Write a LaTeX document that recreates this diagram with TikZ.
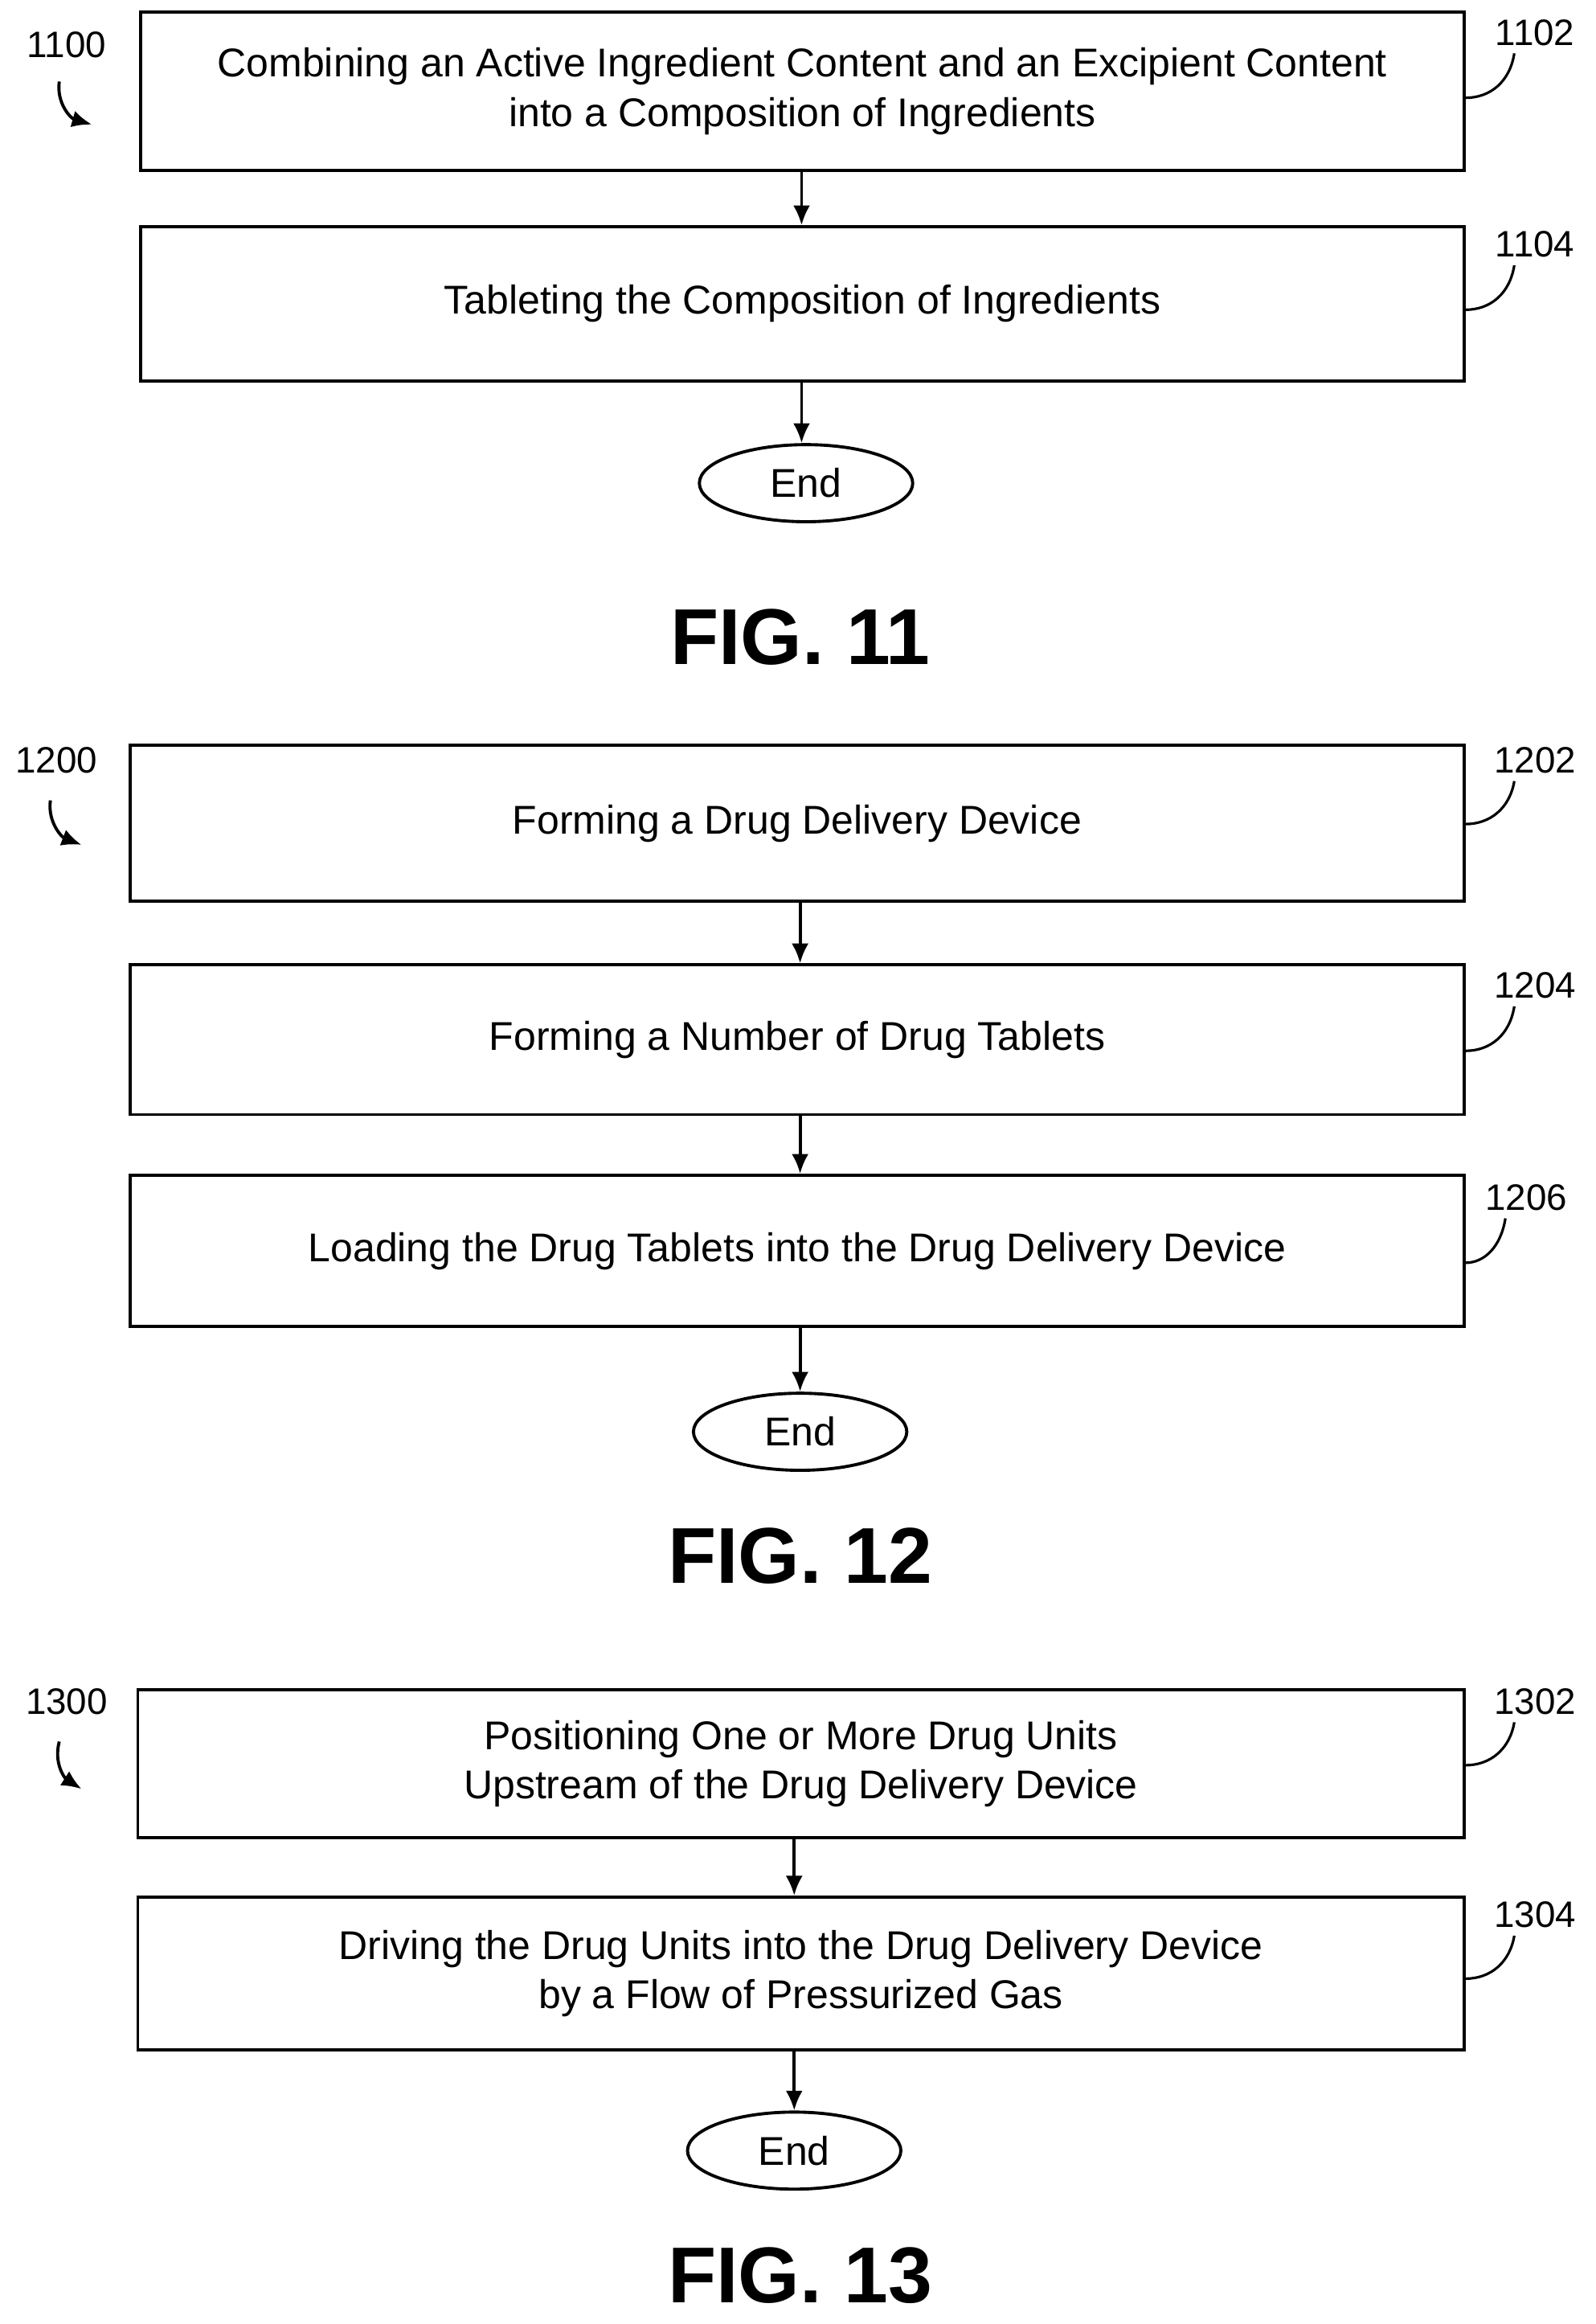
\documentclass[tikz,border=0pt]{standalone}
\usepackage{fontspec}
\setmainfont{Liberation Sans}
\usetikzlibrary{shapes.geometric,arrows.meta}
\begin{document}
\begin{tikzpicture}[x=0.01842cm,y=-0.01842cm,
  box/.style={draw,line width=1.1pt,inner sep=0pt,font=\fontsize{14.2}{17.5}\selectfont,align=center},
  endn/.style={draw,ellipse,line width=1.1pt,minimum width=144*0.01842cm,minimum height=52*0.01842cm,inner sep=0pt,font=\fontsize{14.2}{17}\selectfont},
  fig/.style={font=\fontsize{28}{30}\bfseries\selectfont},
  lbl/.style={font=\fontsize{13}{15}\selectfont},
  arr/.style={-{Latex[length=7pt,width=6pt]},line width=1.1pt},
  lead/.style={line width=0.9pt}]
\useasboundingbox (0,0) rectangle (1077,1568);
% FIG 11
\node[box,minimum width=893*0.01842cm,minimum height=107*0.01842cm] (b1102) at (541.5,61.5) {Combining an Active Ingredient Content and an Excipient Content\\into a Composition of Ingredients};
\node[box,minimum width=893*0.01842cm,minimum height=104*0.01842cm] (b1104) at (541.5,205) {Tableting the Composition of Ingredients};
\node[endn] (e11) at (544,326) {End};
\draw[arr] (b1102.south -| 541,0) -- (b1104.north -| 541,0);
\draw[arr] (b1104.south -| 541,0) -- (e11.north -| 541,0);
\node[fig] (f11) at (540,430) {FIG. 11};
\node[lbl] (l1100) at (45,30) {1100};
\coordinate (a1100s) at (40,55); \coordinate (a1100e) at (62,84);
\draw[arr] (a1100s) .. controls (38,70) and (48,80) .. (a1100e);
\node[lbl] (l1102) at (1036,22) {1102};
\coordinate (t1102) at (1022,36);
\draw[lead] (b1102.east |- 0,66) .. controls (1006,66) and (1019,55) .. (t1102);
\node[lbl] (l1104) at (1036,165) {1104};
\coordinate (t1104) at (1022,179);
\draw[lead] (b1104.east |- 0,209) .. controls (1006,209) and (1019,198) .. (t1104);
% FIG 12
\node[box,minimum width=900*0.01842cm,minimum height=105*0.01842cm] (b1202) at (538,555.5) {Forming a Drug Delivery Device};
\node[box,minimum width=900*0.01842cm,minimum height=101*0.01842cm] (b1204) at (538,701.5) {Forming a Number of Drug Tablets};
\node[box,minimum width=900*0.01842cm,minimum height=102*0.01842cm] (b1206) at (538,844) {Loading the Drug Tablets into the Drug Delivery Device};
\node[endn] (e12) at (540,966) {End};
\draw[arr] (b1202.south -| 540,0) -- (b1204.north -| 540,0);
\draw[arr] (b1204.south -| 540,0) -- (b1206.north -| 540,0);
\draw[arr] (b1206.south -| 540,0) -- (e12.north -| 540,0);
\node[fig] (f12) at (540,1050) {FIG. 12};
\node[lbl] (l1200) at (38,513) {1200};
\coordinate (a1200s) at (34,540); \coordinate (a1200e) at (55,570);
\draw[arr] (a1200s) .. controls (32,555) and (42,565) .. (a1200e);
\node[lbl] (l1202) at (1036,513) {1202};
\coordinate (t1202) at (1022,527);
\draw[lead] (b1202.east |- 0,556) .. controls (1006,556) and (1019,545) .. (t1202);
\node[lbl] (l1204) at (1036,665) {1204};
\coordinate (t1204) at (1022,679);
\draw[lead] (b1204.east |- 0,709) .. controls (1006,709) and (1019,698) .. (t1204);
\node[lbl] (l1206) at (1030,808) {1206};
\coordinate (t1206) at (1016,822);
\draw[lead] (b1206.east |- 0,852) .. controls (1002,852) and (1013,841) .. (t1206);
% FIG 13
\node[box,minimum width=895*0.01842cm,minimum height=100*0.01842cm] (b1302) at (540.5,1190) {Positioning One or More Drug Units\\Upstream of the Drug Delivery Device};
\node[box,minimum width=895*0.01842cm,minimum height=103*0.01842cm] (b1304) at (540.5,1331.5) {Driving the Drug Units into the Drug Delivery Device\\by a Flow of Pressurized Gas};
\node[endn] (e13) at (536,1451) {End};
\draw[arr] (b1302.south -| 536,0) -- (b1304.north -| 536,0);
\draw[arr] (b1304.south -| 536,0) -- (e13.north -| 536,0);
\node[fig] (f13) at (540,1535) {FIG. 13};
\node[lbl] (l1300) at (45,1148) {1300};
\coordinate (a1300s) at (40,1175); \coordinate (a1300e) at (55,1207);
\draw[arr] (a1300s) .. controls (36,1190) and (44,1200) .. (a1300e);
\node[lbl] (l1302) at (1036,1148) {1302};
\coordinate (t1302) at (1022,1162);
\draw[lead] (b1302.east |- 0,1191) .. controls (1006,1191) and (1019,1180) .. (t1302);
\node[lbl] (l1304) at (1036,1292) {1304};
\coordinate (t1304) at (1022,1306);
\draw[lead] (b1304.east |- 0,1335) .. controls (1006,1335) and (1019,1324) .. (t1304);
\end{tikzpicture}
\end{document}
